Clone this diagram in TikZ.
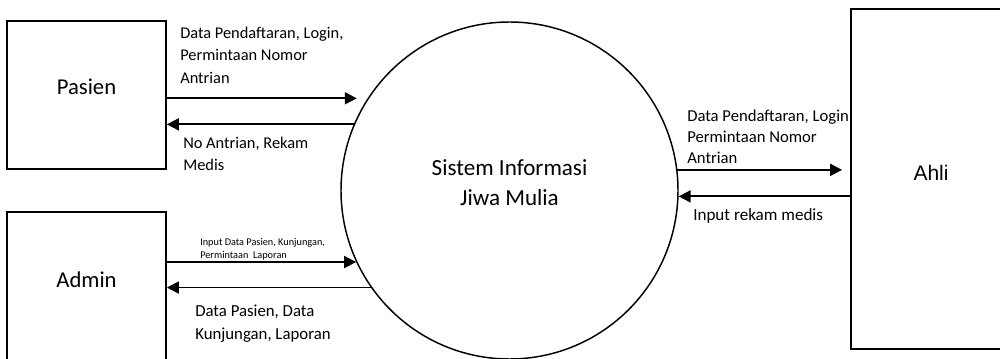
\documentclass[tikz,border=0pt]{standalone}
\usepackage{fontspec}
\setmainfont{Carlito}
\newfontfamily\arialf{Liberation Sans}
\usetikzlibrary{arrows.meta,calc}
\begin{document}
\begin{tikzpicture}[x=0.75pt,y=-0.75pt,
  ent/.style={draw,line width=1.3pt,rectangle,inner sep=0pt,font=\fontsize{17}{20}\selectfont},
  proc/.style={draw,line width=1.1pt,circle,inner sep=0pt,minimum size=252.75pt},
  flow/.style={line width=1.4pt,-{Triangle[length=9pt,width=9pt]}},
  lbl/.style={anchor=north west,inner sep=0pt,align=left},
  ]
\useasboundingbox (0,0) rectangle (1000,359);
\clip (0,0) rectangle (1000,359);

\node[ent,minimum width=119.25pt,minimum height=111pt,text depth=12pt] (pasien) at (86.5,95) {Pasien};
\node[ent,minimum width=119.25pt,minimum height=112.5pt,text depth=10.5pt] (admin) at (86.5,287) {Admin};
\node[ent,minimum width=120pt,minimum height=255pt,text depth=9pt,font=\arialf\fontsize{15.75}{18}\selectfont] (ahli) at (931,179) {Ahli};
\node[proc,label={[name=systext,align=center,font=\fontsize{17.3}{22.5}\selectfont,yshift=5.6pt]center:Sistem Informasi\\Jiwa Mulia}] (sys) at (509.5,190.5) {};

\draw[flow] (pasien.east |- sys.147) -- ($(sys.147)+(-10.8,0)$);
\draw[flow] (sys.157) -- (sys.157 -| pasien.east);
\draw[flow] (admin.east |- sys.205) -- (sys.205);
\draw[flow] (sys.215) -- (sys.215 -| admin.east);
\draw[flow] (sys.7) -- ($(sys.7 -| ahli.west)+(-8,0)$);
\draw[flow] (ahli.west |- sys.-2) -- (sys.-2);

\node[lbl,font=\fontsize{12.3}{16.9}\selectfont] (l1) at (180,26.5) {Data Pendaftaran, Login,\\Permintaan Nomor\\Antrian};
\node[lbl,font=\fontsize{12.3}{16.3}\selectfont] (l2) at (183,137) {No Antrian, Rekam\\Medis};
\node[lbl,font=\fontsize{7.7}{9.5}\selectfont] (l3) at (200,238.3) {Input Data Pasien, Kunjungan,\\Permintaan~ Laporan};
\node[lbl,font=\fontsize{12.6}{17}\selectfont] (l4) at (195,305) {Data Pasien, Data\\Kunjungan, Laporan};
\node[lbl,font=\fontsize{12.5}{15.75}\selectfont] (l5) at (687,110) {Data Pendaftaran, Login,\\Permintaan Nomor\\Antrian};
\node[lbl,font=\fontsize{12.8}{16}\selectfont] (l6) at (693,208) {Input rekam medis};
\end{tikzpicture}
\end{document}
